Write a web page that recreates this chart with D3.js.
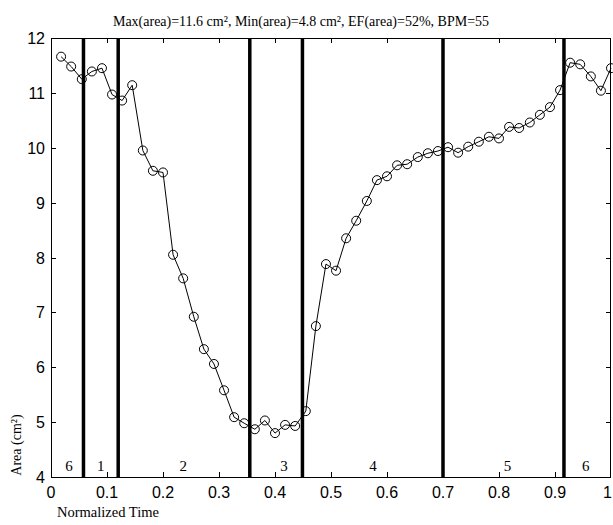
<!DOCTYPE html>
<html>
<head>
<meta charset="utf-8">
<script src="https://cdn.jsdelivr.net/npm/d3@7"></script>
<style>
  body { margin: 0; background: #fff; }
  .tick-label { font-family: "Liberation Sans Narrow", "Liberation Sans", Arial, sans-serif; font-size: 16px; fill: #000; }
  .serif { font-family: "Liberation Serif", "Times New Roman", serif; fill: #000; }
</style>
</head>
<body>
<div id="chartContainer"></div>
<script>
// normalized time of each frame
const times = [
  0.018, 0.036, 0.055, 0.073, 0.091, 0.109, 0.127, 0.145, 0.164, 0.182,
  0.200, 0.218, 0.236, 0.255, 0.273, 0.291, 0.309, 0.327, 0.345, 0.364,
  0.382, 0.400, 0.418, 0.436, 0.455, 0.473, 0.491, 0.509, 0.527, 0.545,
  0.564, 0.582, 0.600, 0.618, 0.636, 0.655, 0.673, 0.691, 0.709, 0.727,
  0.745, 0.764, 0.782, 0.800, 0.818, 0.836, 0.855, 0.873, 0.891, 0.909,
  0.927, 0.945, 0.964, 0.982, 1.000
];
// area in cm2
const areas = [
  11.66, 11.48, 11.25, 11.39, 11.45, 10.97, 10.86, 11.14, 9.95, 9.58,
  9.55, 8.05, 7.62, 6.92, 6.33, 6.06, 5.58, 5.09, 4.98, 4.87,
  5.03, 4.80, 4.95, 4.93, 5.20, 6.75, 7.88, 7.76, 8.35, 8.67,
  9.03, 9.41, 9.48, 9.68, 9.70, 9.83, 9.90, 9.94, 10.01, 9.91,
  10.02, 10.11, 10.20, 10.17, 10.38, 10.36, 10.46, 10.60, 10.74, 11.05,
  11.55, 11.52, 11.30, 11.04, 11.45
];
// phase boundaries and phase labels
const boundaries = [0.058, 0.12, 0.355, 0.449, 0.70, 0.916];
const phaseNames = ["6", "1", "2", "3", "4", "5", "6"];
const phaseLabelX = [0.032, 0.089, 0.236, 0.416, 0.575, 0.815, 0.955];
const xTicks = [0, 0.1, 0.2, 0.3, 0.4, 0.5, 0.6, 0.7, 0.8, 0.9, 1];
const yTicks = [4, 5, 6, 7, 8, 9, 10, 11, 12];
const title = "Max(area)=11.6 cm², Min(area)=4.8 cm², EF(area)=52%, BPM=55";

const W = 613, H = 525;
const margin = { left: 51, top: 38, right: 2, bottom: 48 };
const width = W - margin.left - margin.right;
const height = H - margin.top - margin.bottom;

const svg = d3.select("#chartContainer")
  .append("svg")
  .attr("width", W)
  .attr("height", H);

const xScale = d3.scaleLinear().domain([0, 1]).range([0, width]);
const yScale = d3.scaleLinear().domain([4, 12]).range([height, 0]);

const g = svg.append("g")
  .attr("transform", `translate(${margin.left},${margin.top})`);

// inward ticks on all four sides (matlab box)
const tickLen = 5;
const gTicks = g.append("g").attr("stroke", "#000").attr("stroke-width", 1);
xTicks.slice(1, -1).forEach(t => {
  const x = Math.round(xScale(t)) + 0.5;
  gTicks.append("line").attr("x1", x).attr("x2", x).attr("y1", height).attr("y2", height - tickLen);
  gTicks.append("line").attr("x1", x).attr("x2", x).attr("y1", 0).attr("y2", tickLen);
});
yTicks.slice(1, -1).forEach(t => {
  const y = Math.round(yScale(t)) + 0.5;
  gTicks.append("line").attr("x1", 0).attr("x2", tickLen).attr("y1", y).attr("y2", y);
  gTicks.append("line").attr("x1", width).attr("x2", width - tickLen).attr("y1", y).attr("y2", y);
});

// tick labels (last one kept inside the window)
g.append("g").selectAll("text")
  .data(xTicks)
  .enter().append("text")
  .attr("class", "tick-label")
  .attr("x", (d, i) => i === xTicks.length - 1 ? width + margin.right - 1 : xScale(d))
  .attr("y", height + 21)
  .attr("text-anchor", (d, i) => i === xTicks.length - 1 ? "end" : "middle")
  .text(d => d3.format("")(d));

g.append("g").selectAll("text")
  .data(yTicks)
  .enter().append("text")
  .attr("class", "tick-label")
  .attr("x", -6)
  .attr("y", d => yScale(d) + 6)
  .attr("text-anchor", "end")
  .text(d => d);

// phase boundary lines
g.append("g").selectAll("line")
  .data(boundaries)
  .enter().append("line")
  .attr("x1", d => xScale(d))
  .attr("x2", d => xScale(d))
  .attr("y1", 0)
  .attr("y2", height)
  .attr("stroke", "#000")
  .attr("stroke-width", 3.5);

// phase labels
g.append("g").selectAll("text")
  .data(phaseNames)
  .enter().append("text")
  .attr("class", "serif")
  .attr("font-size", 15)
  .attr("x", (d, i) => xScale(phaseLabelX[i]))
  .attr("y", yScale(4.11))
  .attr("text-anchor", "middle")
  .text(d => d);

// area curve
const pts = times.map((t, i) => [t, areas[i]]);
const line = d3.line().x(d => xScale(d[0])).y(d => yScale(d[1]));
g.append("path")
  .datum(pts)
  .attr("d", line)
  .attr("fill", "none")
  .attr("stroke", "#000")
  .attr("stroke-width", 1);

g.append("g").selectAll("circle")
  .data(pts)
  .enter().append("circle")
  .attr("cx", d => xScale(d[0]))
  .attr("cy", d => yScale(d[1]))
  .attr("r", 4.5)
  .attr("fill", "none")
  .attr("stroke", "#000")
  .attr("stroke-width", 1);

// frame
g.append("rect")
  .attr("x", 0.5)
  .attr("y", 0.5)
  .attr("width", width - 1)
  .attr("height", height)
  .attr("fill", "none")
  .attr("stroke", "#000")
  .attr("stroke-width", 1);

// titles
svg.append("text")
  .attr("class", "serif")
  .attr("font-size", 14)
  .attr("x", 301)
  .attr("y", 26)
  .attr("text-anchor", "middle")
  .text(title);

svg.append("text")
  .attr("class", "serif")
  .attr("font-size", 14.5)
  .attr("x", 57)
  .attr("y", 517)
  .text("Normalized Time");

svg.append("text")
  .attr("class", "serif")
  .attr("font-size", 14)
  .attr("transform", "translate(21,445) rotate(-90)")
  .attr("text-anchor", "middle")
  .text("Area (cm²)");
</script>
</body>
</html>
